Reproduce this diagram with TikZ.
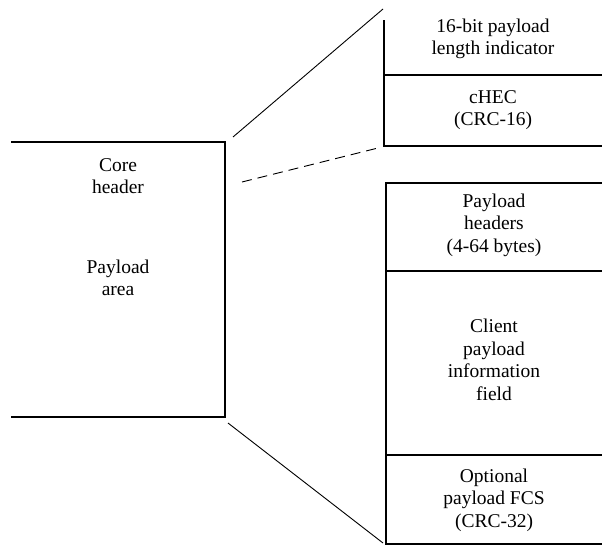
\documentclass[tikz,border=0pt]{standalone}
\usepackage{fontspec}
\setmainfont{Liberation Serif}
\usetikzlibrary{calc}

\begin{document}
\begin{tikzpicture}[x=1pt,y=-1pt]
\tikzstyle{frame} = [line width=1.8pt]
\tikzstyle{zoomline} = [line width=0.9pt]
\tikzstyle{field} = [align=center, inner sep=0pt, font=\fontsize{19.5}{22.5}\selectfont]
\useasboundingbox (0,0) rectangle (602,546);
% core frame
\coordinate (CoreTL) at (11,142);
\coordinate (CoreTR) at (225,142);
\coordinate (CoreBR) at (225,417);
\coordinate (CoreBL) at (11,417);
\draw[frame] (CoreTL) -- (CoreTR) -- (CoreBR) -- (CoreBL);
\node[field] (core) at (118,176) {Core\\header};
\node[field] (area) at (118,278) {Payload\\area};
% core header detail
\coordinate (HdrTop) at (384,20);
\coordinate (HdrMid) at (384,75);
\coordinate (HdrBot) at (384,146);
\draw[frame] (HdrTop) -- (HdrBot) -- (602,146);
\draw[frame] (HdrMid) -- (602,75);
\node[field] (pli) at (493,39) {16-bit payload\\length indicator};
\node[field] (chec) at (493,110) {cHEC\\(CRC-16)};
% payload area detail
\coordinate (PayTop) at (386,183);
\coordinate (PayHdr) at (386,271);
\coordinate (PayFcs) at (386,455);
\coordinate (PayBot) at (386,544);
\draw[frame] (602,183) -- (PayTop) -- (PayBot) -- (602,544);
\draw[frame] (PayHdr) -- (602,271);
\draw[frame] (PayFcs) -- (602,455);
\node[field] (phdr) at (494,225) {Payload\\headers\\(4-64 bytes)};
\node[field] (cpif) at (494,360) {Client\\payload\\information\\field};
\node[field] (fcs) at (494,500) {Optional\\payload FCS\\(CRC-32)};
% zoom lines
\coordinate (ZA) at (233,137);
\coordinate (ZB) at (383,9);
\coordinate (ZC) at (242,182);
\coordinate (ZD) at (378,148);
\coordinate (ZE) at (228,423);
\coordinate (ZF) at (383,543);
\draw[zoomline] (ZA) -- (ZB);
\draw[zoomline, dash pattern=on 10pt off 6pt] (ZC) -- (ZD);
\draw[zoomline] (ZE) -- (ZF);
\end{tikzpicture}
\end{document}
